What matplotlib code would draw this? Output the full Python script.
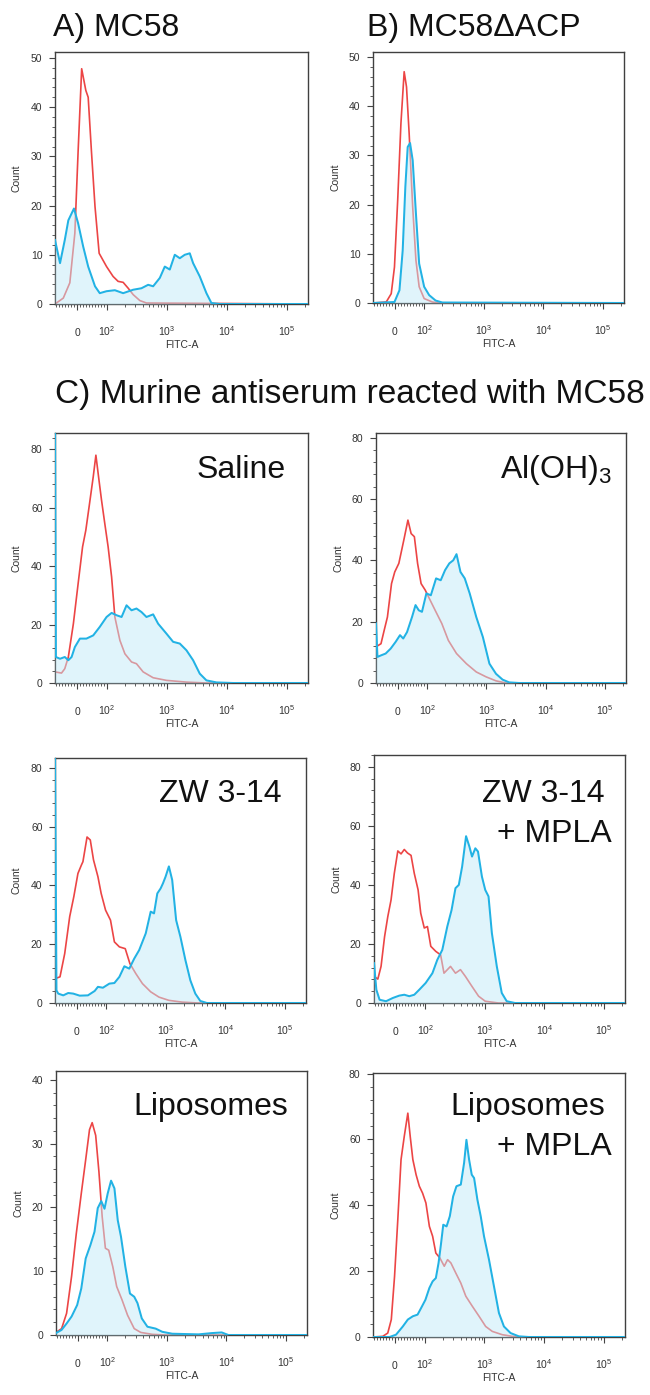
import matplotlib
matplotlib.use('Agg')
import matplotlib.pyplot as plt
from matplotlib.ticker import FixedLocator, AutoMinorLocator

plt.rcParams['font.family'] = ['Liberation Sans', 'DejaVu Sans']
plt.rcParams['mathtext.fontset'] = 'custom'
plt.rcParams['mathtext.rm'] = 'Liberation Sans'
plt.rcParams['mathtext.it'] = 'Liberation Sans:italic'
plt.rcParams['mathtext.bf'] = 'Liberation Sans:bold'

# FITC-A intensity vs. count (red = control, blue = serum)
# A) MC58
a_red_x = [-75, -47, -25, -8, 3, 15, 29, 37, 48, 60, 74, 99, 127, 154, 187, 227, 275, 355, 458, 227000]
a_red_y = [0, 1.2, 4.3, 14.4, 31, 47.8, 43.4, 42, 31, 19.8, 10.3, 7.6, 5.6, 4.6, 4.4, 3.2, 1.9, 0.7, 0.2, 0]
a_blue_x = [-75, -58, -42, -30, -11, 3, 20, 37, 60, 76, 99, 136, 187, 275, 378, 489, 592, 765, 926, 1122,
            1359, 1648, 1995, 2417, 2748, 3548, 4585, 5550, 7640, 227000]
a_blue_y = [13, 8.3, 13, 17, 19.4, 16.4, 11.7, 7.6, 3.6, 2.2, 2.6, 2.8, 2.2, 2.9, 3.2, 3.9, 3.6, 5.3, 7.6, 7,
            10, 9.3, 10, 10.3, 8.3, 5.6, 2.2, 0.2, 0, 0]

# B) MC58 dACP
b_red_x = [-75, -30, -13, -2, 9, 20, 31, 39, 48, 60, 71, 82, 99, 136, 176, 227000]
b_red_y = [0, 0.2, 1.9, 7.3, 20.9, 36.5, 47, 43.9, 34.4, 19.5, 8.7, 3.3, 0.9, 0.2, 0, 0]
b_blue_x = [-75, -2, 15, 26, 35, 43, 51, 60, 71, 82, 99, 120, 154, 200, 227000]
b_blue_y = [0, 0.2, 2.6, 10.7, 23.6, 31.7, 32.5, 29, 18.2, 8, 3.3, 1.6, 0.5, 0.1, 0]

# Saline
s_red_x = [-75, -53, -42, -30, -13, 3, 18, 29, 40, 54, 63, 72, 82, 93, 105, 120, 136, 165, 200, 258, 312,
           403, 592, 987, 2128, 4585, 227000]
s_red_y = [3.8, 3.4, 4.9, 8.9, 20.3, 34, 46.6, 52.3, 60.3, 70.6, 78, 70.6, 62.6, 54.6, 46.6, 36.3, 22.6,
           14.6, 10, 7.2, 6.6, 3.8, 1.8, 0.9, 0.3, 0, 0]
s_blue_x = [-75, -72, -58, -42, -30, -19, -8, 9, 31, 54, 76, 99, 120, 145, 176, 213, 258, 312, 378, 458,
            592, 717, 987, 1275, 1648, 2128, 2748, 3548, 4585, 6730, 12760, 227000]
s_blue_y = [90, 8.9, 8.3, 8.9, 7.8, 8.9, 12.3, 15.2, 15.2, 16.3, 19.2, 22.6, 24, 23.2, 22.6, 26.6, 24.9,
            25.5, 24.3, 22.6, 23.5, 20.3, 16.9, 14.1, 13.5, 11.2, 7.8, 3.2, 0.9, 0.2, 0, 0]

# Al(OH)3
al_red_x = [-75, -58, -47, -36, -22, -11, 3, 20, 34, 45, 56, 67, 79, 93, 112, 136, 176, 227, 312, 458, 673,
            987, 1449, 2128, 227000]
al_red_y = [11.8, 12.8, 17.2, 21.5, 32.4, 36.2, 39, 46.6, 53.1, 48.7, 47.7, 39, 32.4, 30.3, 27, 23.7, 19.4,
            13.9, 9.6, 6.3, 3.6, 2, 0.7, 0, 0]
al_blue_x = [-75, -70, -58, -42, -25, -8, 7, 18, 31, 48, 60, 71, 82, 97, 115, 141, 169, 200, 236, 275, 312,
             364, 430, 521, 673, 869, 1122, 1449, 1871, 2417, 3548, 227000]
al_blue_y = [19.4, 8.5, 9, 9.6, 11.2, 13.4, 15.6, 14.5, 16.6, 21.5, 25.4, 23.7, 23.2, 29.2, 28.6, 34.1, 33.5,
             36.8, 39, 40, 42, 36.2, 34.1, 29.2, 21.5, 15, 6.3, 3, 1.1, 0.2, 0, 0]

# ZW 3-14
zw_red_x = [-75, -58, -42, -25, -11, 3, 15, 20, 34, 45, 56, 71, 82, 97, 117, 136, 165, 207, 248, 312, 403,
            555, 765, 1122, 1871, 3548, 227000]
zw_red_y = [8.3, 8.9, 16.8, 29.4, 36.2, 44.1, 47, 48.1, 56.5, 55.5, 48.7, 43, 37.3, 31.6, 28.2, 20.8, 19.1,
            18.5, 13.4, 10, 6.6, 3.8, 2, 0.9, 0.3, 0, 0]
zw_blue_x = [-75, -70, -64, -47, -30, -13, 9, 37, 60, 71, 88, 112, 136, 165, 200, 242, 293, 355, 458, 555,
             631, 717, 815, 891, 987, 1122, 1275, 1486, 1755, 2128, 2578, 3122, 3784, 4886, 227000]
zw_blue_y = [85, 4.3, 3.2, 2.6, 3.4, 3.2, 2.5, 2.6, 4.1, 5.5, 5.2, 6.6, 6.8, 8.9, 12.5, 11.7, 15.1, 18, 23.7,
             31.1, 30.5, 37.3, 39, 40.7, 43, 46.5, 41.9, 28.2, 22.5, 14.6, 7.7, 3.2, 0.7, 0, 0]

# ZW 3-14 + MPLA
zm_red_x = [-75, -62, -51, -39, -28, -17, -6, 6, 17, 28, 39, 51, 62, 75, 84, 96, 108, 123, 149, 180, 205,
            264, 320, 388, 470, 607, 783, 1013, 1690, 227000]
zm_red_y = [9, 8.1, 12.4, 22.5, 29.3, 34.9, 43.9, 51.5, 50.5, 52, 50.8, 50, 43.9, 38.3, 30.4, 25.4, 25.9,
            19.2, 17.5, 16.3, 10.1, 12.4, 10.1, 11.3, 9, 5.6, 2.3, 0.6, 0, 0]
zm_blue_x = [-75, -67, -56, -34, -11, 11, 28, 45, 62, 79, 101, 131, 158, 192, 233, 275, 320, 364, 414, 482,
             548, 607, 690, 765, 891, 1013, 1150, 1309, 1585, 1920, 2326, 3206, 227000]
zm_blue_y = [13.5, 4.5, 1.1, 0.6, 1.7, 2.5, 2.8, 2.3, 2.8, 4.5, 6.8, 10.1, 14.6, 18, 25.9, 31.5, 38.9, 40,
             46.2, 56.5, 53, 49.6, 52.4, 51.3, 42.8, 38.3, 36.1, 23.7, 12.4, 3.4, 0.6, 0, 0]

# Liposomes
l_red_x = [-75, -56, -39, -22, -6, 11, 26, 39, 48, 60, 71, 82, 93, 105, 123, 143, 176, 218, 282, 364, 570,
           950, 227000]
l_red_y = [0.4, 1, 3.4, 9.2, 15.9, 22.2, 27.5, 32.2, 33.3, 31.3, 25.6, 18.6, 13.6, 13.3, 10.7, 7.6, 5.5,
           3.1, 1, 0.4, 0.1, 0, 0]
l_blue_x = [-75, -56, -39, -22, -3, 11, 26, 42, 56, 67, 79, 90, 101, 115, 131, 149, 169, 200, 239, 282, 320,
            378, 470, 647, 836, 1228, 3412, 5700, 8350, 10790, 227000]
l_blue_y = [0.3, 0.8, 1.8, 2.9, 4.7, 7.3, 12, 14.1, 16.2, 19.9, 21, 19.8, 22.2, 24.2, 23, 18, 15.4, 10.7,
            6.5, 6, 5, 2.6, 1.3, 1, 0.5, 0.2, 0.1, 0.3, 0.4, 0, 0]

# Liposomes + MPLA
lm_red_x = [-75, -42, -25, -13, -2, 9, 20, 31, 43, 51, 60, 71, 82, 93, 105, 120, 136, 154, 180, 213, 242,
            275, 333, 403, 489, 631, 815, 1052, 1359, 1995, 2931, 4300, 227000]
lm_red_y = [0, 0.2, 1.2, 5.3, 18.4, 35.6, 53.9, 61, 68, 61, 53.9, 49.3, 45.8, 43.7, 40.7, 33.6, 30.6, 25.5,
            24, 21.5, 23.5, 22.5, 19.4, 16.4, 12.4, 9.3, 6.3, 3.2, 1.7, 0.7, 0.2, 0, 0]
lm_blue_x = [-75, -19, 3, 26, 43, 60, 76, 88, 103, 120, 136, 154, 171, 187, 205, 233, 264, 300, 341, 403,
             458, 501, 555, 615, 673, 765, 869, 987, 1196, 1449, 1755, 2128, 2748, 3784, 5550, 227000]
lm_blue_y = [0, 0, 0.7, 3.2, 5.3, 6.3, 6.8, 8.8, 11.3, 14.9, 16.9, 17.9, 22.5, 28, 34.1, 33.6, 36.7, 42.7,
             45.8, 46.3, 52.9, 59.9, 53.9, 49.3, 48.3, 41.7, 36.7, 30.6, 23.5, 15.4, 7.3, 3.2, 1.2, 0.2, 0, 0]

x_ticks = [0, 100, 1000, 10000, 100000]
x_tick_labels = ['$0$', '$10^2$', '$10^3$', '$10^4$', '$10^5$']

RED = '#ec4545'
BLUE = '#22b2e4'
FILL = '#c3ebf9'
W, H = 650, 1395

# panel boxes in pixels: left, right, top, bottom, y max, y step
panels = [
    (a_red_x, a_red_y, a_blue_x, a_blue_y, (55, 308, 52, 304), 51.2, 10),
    (b_red_x, b_red_y, b_blue_x, b_blue_y, (373, 624, 52, 303), 51.0, 10),
    (s_red_x, s_red_y, s_blue_x, s_blue_y, (55, 308, 433, 683), 85.6, 20),
    (al_red_x, al_red_y, al_blue_x, al_blue_y, (376, 626, 433, 683), 81.5, 20),
    (zw_red_x, zw_red_y, zw_blue_x, zw_blue_y, (55, 306, 758, 1003), 83.4, 20),
    (zm_red_x, zm_red_y, zm_blue_x, zm_blue_y, (374, 625, 755, 1003), 84.0, 20),
    (l_red_x, l_red_y, l_blue_x, l_blue_y, (56, 307, 1071, 1335), 41.4, 10),
    (lm_red_x, lm_red_y, lm_blue_x, lm_blue_y, (373, 625, 1073, 1337), 80.2, 20),
]

x_minor = [-70, -60, -50, -40, -30, -20, -10, 10, 20, 30, 40, 50, 60, 70, 80, 90]
for dec in (100, 1000, 10000, 100000):
    x_minor += [dec * k for k in range(2, 10) if dec * k < 227000]

fig = plt.figure(figsize=(W / 100, H / 100), dpi=100)

for rx, ry, bx, by, box, ymax, ystep in panels:
    l, r, t, b = box
    ax = fig.add_axes([l / W, 1 - b / H, (r - l) / W, (b - t) / H])
    ax.plot(rx, ry, color=RED, lw=1.2, zorder=2)
    ax.fill_between(bx, 0, by, color=FILL, alpha=0.5, lw=0, zorder=3)
    ax.plot(bx, by, color=BLUE, lw=1.45, zorder=4)

    ax.set_xscale('symlog', linthresh=100, linscale=0.445)
    ax.set_xlim(-75, 227000)
    ax.set_ylim(0, ymax)
    ax.set_xticks(x_ticks, labels=x_tick_labels)
    ax.xaxis.set_minor_locator(FixedLocator(x_minor))
    ax.set_yticks(range(0, int(ymax) + 1, ystep))
    ax.yaxis.set_minor_locator(AutoMinorLocator(5))

    ax.tick_params(axis='x', which='major', length=4, width=0.8, pad=19, labelsize=7.5,
                   colors='#444444', labelcolor='#333333')
    ax.tick_params(axis='x', which='minor', length=2.2, width=0.6, colors='#444444')
    ax.tick_params(axis='y', which='major', length=4, width=0.8, pad=5, labelsize=7.5,
                   colors='#444444', labelcolor='#333333')
    ax.tick_params(axis='y', which='minor', length=2, width=0.6, colors='#444444')
    plt.setp(ax.get_xticklabels(), va='baseline')

    ax.set_xlabel('FITC-A', fontsize=7.5, color='#333333')
    ax.xaxis.set_label_coords(0.5, -36 / (b - t))
    ax.set_ylabel('Count', fontsize=7.5, color='#333333')
    ax.yaxis.set_label_coords(-33 / (r - l), 0.5)

    for sp in ax.spines.values():
        sp.set_color('#404040')
        sp.set_linewidth(1.0)


def label(px, py, s, size=23, ha='left'):
    fig.text(px / W, 1 - py / H, s, fontsize=size, ha=ha, va='baseline', color='#111111')


label(53, 36, 'A) MC58')
label(367, 36, 'B) MC58ΔACP')
label(55, 403, 'C) Murine antiserum reacted with MC58', size=24)

label(286, 478, 'Saline', ha='right')
label(612, 478, 'Al(OH)$_3$', ha='right')
label(282, 802, 'ZW 3-14', ha='right')
label(605, 802, 'ZW 3-14', ha='right')
label(612, 842, '+ MPLA', ha='right')
label(288, 1115, 'Liposomes', ha='right')
label(605, 1115, 'Liposomes', ha='right')
label(612, 1155, '+ MPLA', ha='right')

fig.savefig('out.png', dpi=100)
